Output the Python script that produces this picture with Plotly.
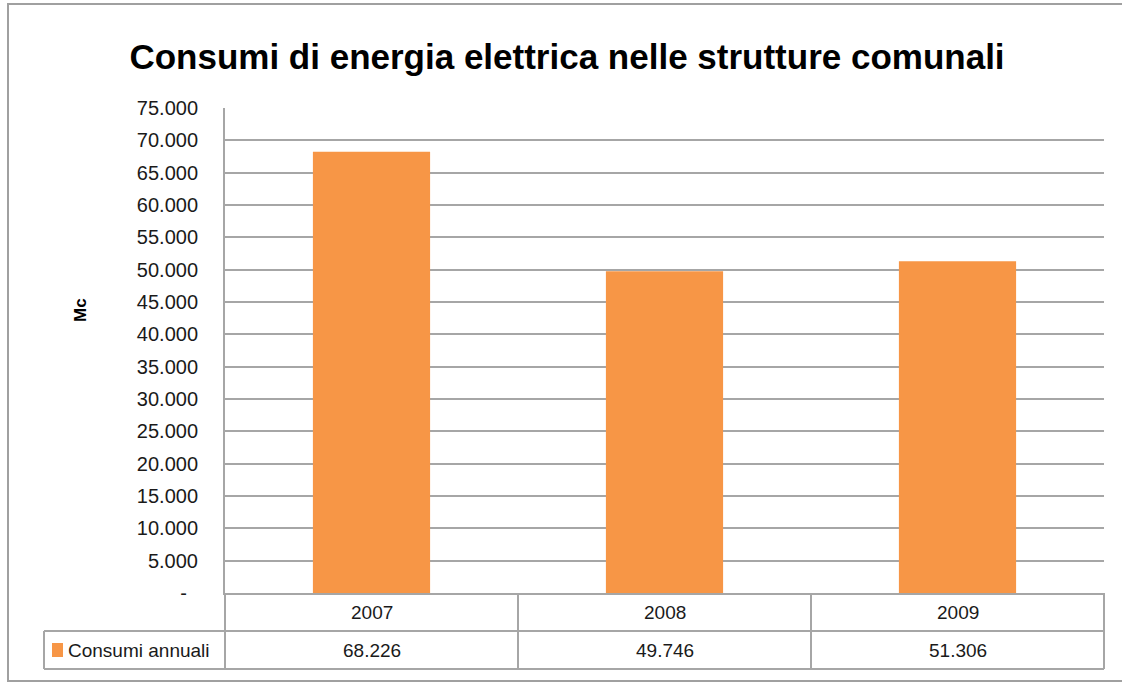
import plotly.graph_objects as go

years = ["2007", "2008", "2009"]
consumi = [68226, 49746, 51306]
series_name = "Consumi annuali"
title = "Consumi di energia elettrica nelle strutture comunali"
y_title = "Mc"
tick_vals = list(range(0, 75001, 5000))
tick_text = ["-\u00a0\u00a0"] + [f"{v:,}".replace(",", ".") for v in tick_vals[1:]]

def fmt(v):
    return f"{v:,}".replace(",", ".")

W, H = 1122, 683
L, R, T, B = 225, 1122 - 1104, 108, 683 - 593
pw, ph = W - L - R, H - T - B

def px(x):
    return (x - L) / pw

def py(y):
    return (H - B - y) / ph

GRID = "#A6A6A6"
FONT = "Liberation Sans Narrow, Liberation Sans, Arial"
BODY = "Liberation Sans, Arial"
BAR = "#F79646"

fig = go.Figure()
fig.add_trace(go.Bar(
    x=list(range(len(years))), y=consumi, name=series_name,
    marker=dict(color=BAR, line=dict(width=0)),
    width=0.4,
))

shapes = []
line = dict(color=GRID, width=2)
for yy, x0 in [(631, 44), (669, 44)]:
    shapes.append(dict(type="line", xref="paper", yref="paper", x0=px(x0), x1=1, y0=py(yy), y1=py(yy), line=line))
n = len(years)
for i in range(n + 1):
    shapes.append(dict(type="line", xref="paper", yref="paper", x0=i / n, x1=i / n, y0=py(593), y1=py(669), line=line))
shapes.append(dict(type="line", xref="paper", yref="paper", x0=px(44), x1=px(44), y0=py(631), y1=py(669), line=line))
shapes.append(dict(type="rect", xref="paper", yref="paper", x0=px(52), x1=px(63), y0=py(657), y1=py(643),
                   fillcolor=BAR, line=dict(width=0)))
shapes.append(dict(type="rect", xref="paper", yref="paper", x0=px(8), x1=px(1130), y0=py(681), y1=py(4),
                   line=dict(color="#A0A0A0", width=2), fillcolor="rgba(0,0,0,0)", layer="below"))

TXT = "#1a1a1a"
annotations = []
for i, (yr, v) in enumerate(zip(years, consumi)):
    annotations.append(dict(x=(i + 0.5) / n, y=py(612), xref="paper", yref="paper", text=yr, showarrow=False,
                            xanchor="center", yanchor="middle", font=dict(family=BODY, size=19, color=TXT)))
    annotations.append(dict(x=(i + 0.5) / n, y=py(650), xref="paper", yref="paper", text=fmt(v), showarrow=False,
                            xanchor="center", yanchor="middle", font=dict(family=BODY, size=19, color=TXT)))
annotations.append(dict(x=px(66), y=py(650), xref="paper", yref="paper", text=series_name, showarrow=False,
                        xanchor="left", yanchor="middle", font=dict(family=BODY, size=19, color=TXT)))
annotations.append(dict(x=px(80), y=py(310), xref="paper", yref="paper", text=f"<b>{y_title}</b>", showarrow=False,
                        xanchor="center", yanchor="middle", textangle=-90,
                        font=dict(family=BODY, size=17, color="#000")))

fig.update_layout(
    width=W, height=H,
    margin=dict(l=L, r=R, t=T, b=B, autoexpand=False),
    paper_bgcolor="white", plot_bgcolor="white",
    showlegend=False,
    title=dict(text=f"<b>{title}</b>", xref="container", x=567 / W, xanchor="center",
               yref="container", y=1 - 57 / H, yanchor="middle",
               font=dict(family=FONT, size=35, color="#000")),
    xaxis=dict(range=[-0.5, n - 0.5], showticklabels=False, showgrid=False, zeroline=False,
               showline=True, linecolor=GRID, linewidth=2, fixedrange=True),
    yaxis=dict(range=[0, 75000], tickvals=tick_vals, ticktext=tick_text, showgrid=True, gridcolor=GRID,
               gridwidth=2, zeroline=False, showline=True, linecolor=GRID, linewidth=2,
               ticklabelstandoff=21, tickfont=dict(family=BODY, size=20, color=TXT)),
    shapes=shapes, annotations=annotations,
)

fig.write_html("out.html", config={"displayModeBar": False},
               post_script="document.body.style.margin='0';document.body.style.padding='0';")
